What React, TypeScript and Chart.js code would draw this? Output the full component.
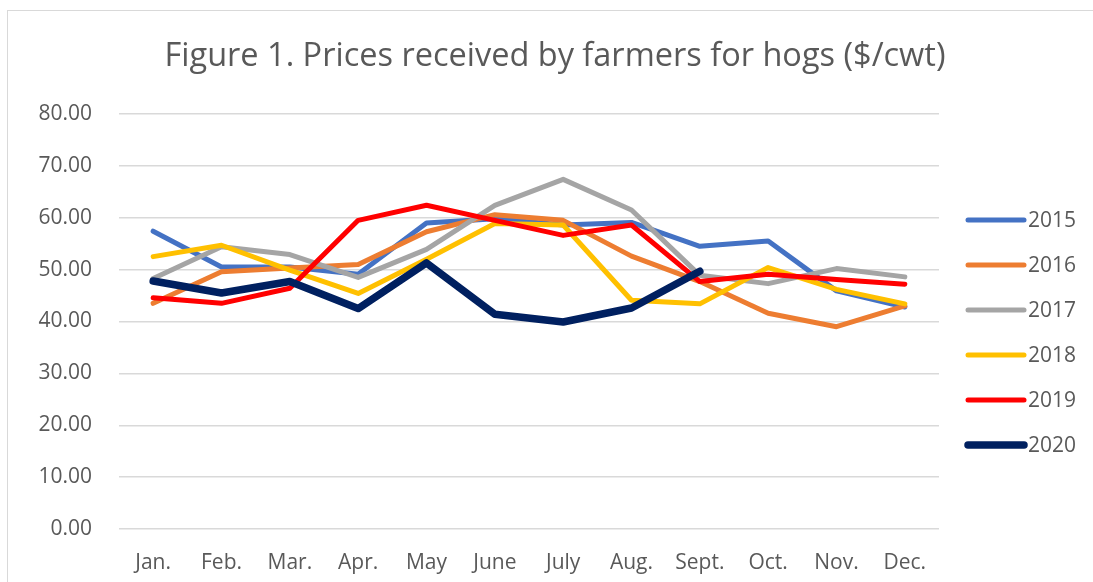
import React, { useEffect, useRef } from "react";
import { Chart, registerables } from "chart.js";

Chart.register(...registerables);

const months = ["Jan.", "Feb.", "Mar.", "Apr.", "May", "June", "July", "Aug.", "Sept.", "Oct.", "Nov.", "Dec."];
const seriesNames = ["2015", "2016", "2017", "2018", "2019", "2020"];
const p2015 = [57.4, 50.5, 50.5, 49.1, 59.0, 59.8, 58.6, 59.1, 54.5, 55.5, 45.9, 42.8];
const p2016 = [43.5, 49.6, 50.3, 51.0, 57.3, 60.6, 59.5, 52.6, 47.7, 41.6, 39.0, 43.0];
const p2017 = [48.3, 54.4, 52.9, 48.5, 53.9, 62.4, 67.4, 61.5, 48.9, 47.3, 50.2, 48.6];
const p2018 = [52.5, 54.7, 49.9, 45.4, 52.0, 58.9, 58.6, 44.1, 43.4, 50.4, 46.2, 43.4];
const p2019 = [44.6, 43.5, 46.4, 59.5, 62.4, 59.5, 56.6, 58.6, 47.7, 49.1, 48.1, 47.2];
const p2020 = [47.8, 45.5, 47.7, 42.5, 51.3, 41.4, 39.9, 42.6, 49.7, null, null, null];
const seriesValues = [p2015, p2016, p2017, p2018, p2019, p2020];
const seriesColors = ["#4472C4", "#ED7D31", "#A5A5A5", "#FFC000", "#FF0000", "#002060"];
const seriesWidths = [5, 5, 5, 5, 5, 7.5];
const titleText = "Figure 1. Prices received by farmers for hogs ($/cwt)";

const FONT = "'Open Sans', 'Noto Sans', sans-serif";
const TEXT_COLOR = "#595959";

const overlayPlugin = {
  id: "overlay",
  afterDraw(chart: any) {
    const ctx = chart.ctx;
    ctx.save();
    // title
    ctx.fillStyle = TEXT_COLOR;
    ctx.font = `32.5px ${FONT}`;
    ctx.textAlign = "center";
    ctx.textBaseline = "middle";
    ctx.fillText(titleText, 555, 57);
    // legend
    chart.data.datasets.forEach((ds: any, i: number) => {
      const y = 220 + 45 * i;
      ctx.strokeStyle = ds.borderColor;
      ctx.lineWidth = ds.borderWidth;
      ctx.lineCap = "round";
      ctx.beginPath();
      ctx.moveTo(968, y);
      ctx.lineTo(1024, y);
      ctx.stroke();
      ctx.fillStyle = TEXT_COLOR;
      ctx.font = `21px ${FONT}`;
      ctx.textAlign = "left";
      ctx.textBaseline = "middle";
      ctx.fillText(ds.label, 1028, y + 1);
    });
    ctx.restore();
  },
};

export default function App() {
  const ref = useRef<HTMLCanvasElement | null>(null);
  useEffect(() => {
    if (!ref.current) return;
    const chart = new Chart(ref.current, {
      type: "line",
      data: {
        labels: months,
        datasets: seriesNames.map((name, i) => ({
          label: name,
          data: seriesValues[i],
          borderColor: seriesColors[i],
          backgroundColor: seriesColors[i],
          borderWidth: seriesWidths[i],
          pointRadius: 0,
          pointHoverRadius: 0,
          tension: 0,
          borderCapStyle: "round",
          borderJoinStyle: "round",
          spanGaps: false,
          order: seriesNames.length - 1 - i,
        })),
      },
      options: {
        responsive: false,
        animation: false,
        layout: { padding: { top: 114, left: 0, right: 154, bottom: 0 } },
        plugins: {
          legend: { display: false },
          title: { display: false },
          tooltip: { enabled: false },
        },
        scales: {
          x: {
            offset: true,
            grid: { display: false, drawTicks: false },
            border: { display: false },
            ticks: {
              color: TEXT_COLOR,
              font: { family: FONT, size: 21 },
              padding: 21,
              maxRotation: 0,
              autoSkip: false,
            },
            afterFit(scale: any) {
              scale.height = 53;
            },
          },
          y: {
            min: 0,
            max: 80,
            grid: { color: "#d9d9d9", lineWidth: 1.5, drawTicks: false },
            border: { display: false },
            ticks: {
              stepSize: 10,
              color: TEXT_COLOR,
              font: { family: FONT, size: 21 },
              padding: 27,
              callback: (v: any) => Number(v).toFixed(2),
            },
            afterFit(scale: any) {
              scale.width = 119;
            },
          },
        },
      },
      plugins: [overlayPlugin],
    } as any);
    return () => chart.destroy();
  }, []);
  return (
    <div style={{ position: "fixed", left: 0, top: 0, width: 1093, height: 582, overflow: "hidden", background: "#fff" }}>
      <div style={{ position: "absolute", left: 7, top: 10, width: 1200, height: 700, border: "1px solid #d9d9d9" }} />
      <canvas ref={ref} width={1093} height={582} style={{ position: "absolute", left: 0, top: 0, width: 1093, height: 582 }} />
    </div>
  );
}
